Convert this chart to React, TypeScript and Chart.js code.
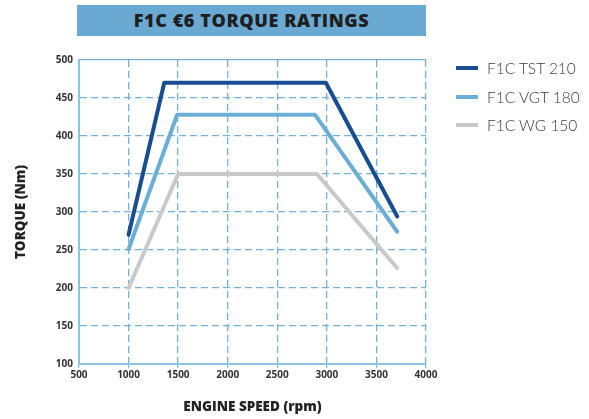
import React, { useEffect, useRef } from "react";
import { Chart, registerables } from "chart.js";

Chart.register(...registerables);

const titleText = "F1C €6 TORQUE RATINGS";
const xTitle = "ENGINE SPEED (rpm)";
const yTitle = "TORQUE (Nm)";

const seriesNames = ["F1C TST 210", "F1C VGT 180", "F1C WG 150"];
const seriesColors = ["#194d91", "#6aaed6", "#c9c9c9"];

const tstRpm = [1000, 1360, 2990, 3710];
const tstTorque = [270, 470, 470, 294];
const vgtRpm = [1000, 1490, 2880, 3710];
const vgtTorque = [251, 428, 428, 274];
const wgRpm = [1000, 1500, 2900, 3710];
const wgTorque = [200, 350, 350, 226];

const xMin = 500, xMax = 4000, xStep = 500;
const yMin = 100, yMax = 500, yStep = 50;

const gridColor = "#72b2da";
const borderColor = "#8cc2e2";
const tickFont = { family: "Open Sans", weight: "bold" as const, size: 10 };
const axisTitleFont = { family: "Open Sans", weight: "800" as any, size: 13.5 };

function pts(xs: number[], ys: number[]) {
  return xs.map((x, i) => ({ x, y: ys[i] }));
}

export default function App() {
  const ref = useRef<HTMLCanvasElement | null>(null);
  useEffect(() => {
    if (!ref.current) return;
    const data = [pts(tstRpm, tstTorque), pts(vgtRpm, vgtTorque), pts(wgRpm, wgTorque)];
    const chart = new Chart(ref.current, {
      type: "line",
      data: {
        datasets: data.map((d, i) => ({
          label: seriesNames[i],
          data: d,
          borderColor: seriesColors[i],
          backgroundColor: seriesColors[i],
          borderWidth: 4,
          pointRadius: 0,
          tension: 0,
          borderJoinStyle: "round" as const,
          borderCapStyle: "round" as const,
          fill: false,
        })),
      },
      options: {
        responsive: false,
        animation: false,
        devicePixelRatio: 1,
        layout: { padding: { top: 60, right: 163, left: 0, bottom: 0 } },
        plugins: {
          legend: { display: false },
          title: { display: false },
          tooltip: { enabled: false },
        },
        scales: {
          x: {
            type: "linear",
            min: xMin,
            max: xMax,
            afterFit: (s: any) => { s.height = 55; },
            ticks: {
              stepSize: xStep,
              font: tickFont,
              color: "#333",
              padding: 1,
              callback: (v: any) => String(v),
            },
            grid: { color: gridColor, drawTicks: true, tickLength: 4, tickColor: borderColor, lineWidth: 1.3 },
            border: {
              color: borderColor,
              width: 2,
              dash: (ctx: any) => (ctx.tick && ctx.tick.value === xMin ? [] : [7, 4]),
            },
            title: {
              display: true,
              text: xTitle,
              color: "#222",
              font: axisTitleFont,
              padding: { top: 4, bottom: 4 },
            },
          },
          y: {
            min: yMin,
            max: yMax,
            afterFit: (s: any) => { s.width = 79; },
            ticks: { stepSize: yStep, font: tickFont, color: "#333", padding: 6, callback: (v: any) => String(v) },
            grid: { color: gridColor, drawTicks: false, lineWidth: 1.3 },
            border: {
              color: borderColor,
              width: 2,
              dash: (ctx: any) => (ctx.tick && ctx.tick.value === yMax ? [] : [7, 4]),
            },
            title: {
              display: true,
              text: yTitle,
              color: "#222",
              font: axisTitleFont,
              padding: { top: 13, bottom: 4 },
            },
          },
        },
      },
    });
    return () => chart.destroy();
  }, []);

  return (
    <div style={{ position: "absolute", left: 0, top: 0, width: 589, height: 419, background: "#fff" }}>
      <canvas ref={ref} width={589} height={419} style={{ display: "block" }} />
      <div
        style={{
          position: "absolute",
          left: 77,
          top: 5,
          width: 349,
          height: 31,
          background: "#69a9d2",
          color: "#1e1e1e",
          fontFamily: "Open Sans",
          fontWeight: 800,
          fontSize: 18,
          lineHeight: "31px",
          textAlign: "center",
          letterSpacing: 0.6,
        }}
      >
        {titleText}
      </div>
      {seriesNames.map((n, i) => (
        <div
          key={n}
          style={{ position: "absolute", left: 456, top: 58 + i * 28.5, height: 20, display: "flex", alignItems: "center" }}
        >
          <div style={{ width: 22, height: 4, background: seriesColors[i], marginRight: 9 }} />
          <span style={{ fontFamily: "Lato", fontWeight: 300, fontSize: 15.5, color: "#3a3a3a", whiteSpace: "nowrap" }}>{n}</span>
        </div>
      ))}
    </div>
  );
}
